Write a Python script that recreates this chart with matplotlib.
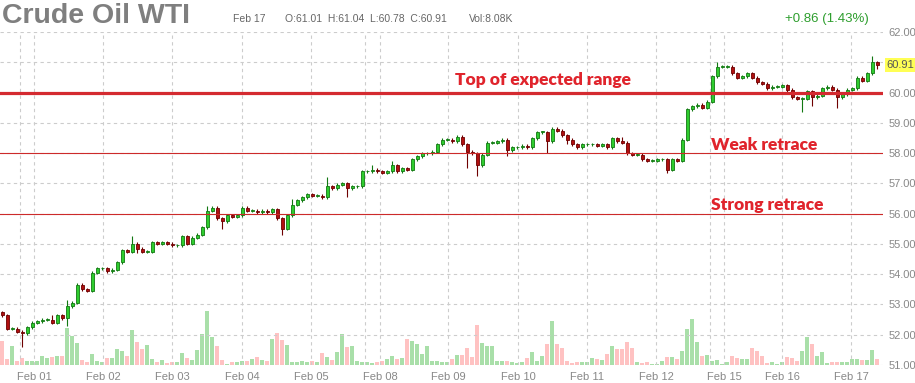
import numpy as np
import matplotlib
matplotlib.use("Agg")
import matplotlib.pyplot as plt
import matplotlib.transforms as mtransforms

plt.rcParams['font.family'] = ['Liberation Sans', 'DejaVu Sans']

# hourly-ish candles (close prices)
closes = [
    52.65, 52.20, 52.20, 52.10, 52.05, 52.25, 52.40, 52.45, 52.50, 52.50,
    52.40, 52.65, 52.55, 52.95, 53.05, 53.65, 53.50, 53.45, 54.05, 54.20,
    54.20, 54.10, 54.15, 54.40, 54.80, 54.75, 55.00, 54.85, 54.75, 54.75,
    55.05, 55.00, 55.05, 55.00, 54.95, 54.95, 55.25, 55.00, 55.20, 55.30,
    55.55, 56.10, 56.20, 55.85, 55.75, 55.95, 55.90, 55.95, 56.20, 56.10,
    56.10, 56.05, 56.10, 56.05, 56.15, 55.85, 55.50, 55.95, 56.30, 56.45,
    56.55, 56.65, 56.60, 56.60, 56.55, 56.90, 56.85, 56.95, 57.00, 56.85,
    56.90, 56.90, 57.40, 57.40, 57.45, 57.40, 57.35, 57.40, 57.60, 57.40,
    57.50, 57.45, 57.80, 57.90, 58.00, 58.00, 58.05, 58.30, 58.45, 58.45,
    58.40, 58.55, 58.30, 58.05, 58.00, 57.60, 57.95, 58.35, 58.35, 58.40,
    58.45, 58.10, 58.20, 58.20, 58.25, 58.20, 58.50, 58.70, 58.70, 58.40,
    58.80, 58.75, 58.60, 58.45, 58.30, 58.20, 58.30, 58.30, 58.30, 58.25,
    58.30, 58.20, 58.50, 58.40, 58.35, 58.00, 57.95, 57.95, 57.80, 57.75,
    57.75, 57.80, 57.80, 57.45, 57.80, 57.75, 58.45, 59.45, 59.55, 59.60,
    59.50, 59.70, 60.55, 60.85, 60.85, 60.85, 60.65, 60.50, 60.55, 60.65,
    60.50, 60.35, 60.30, 60.15, 60.20, 60.20, 60.25, 60.10, 59.85, 59.80,
    59.80, 60.05, 59.85, 59.90, 60.15, 60.20, 60.10, 59.85, 59.95, 60.10,
    60.15, 60.50, 60.40, 60.65, 61.01, 60.91,
]
first_open = 52.75

# wick lengths above / below the body
wick_up = [
    0.05, 0.05, 0.05, 0.05, 0.05, 0.05, 0.05, 0.05, 0.05, 0.05,
    0.15, 0.05, 0.05, 0.20, 0.05, 0.05, 0.05, 0.05, 0.05, 0.05,
    0.05, 0.05, 0.05, 0.05, 0.05, 0.05, 0.25, 0.05, 0.05, 0.05,
    0.05, 0.05, 0.05, 0.05, 0.05, 0.05, 0.05, 0.05, 0.05, 0.05,
    0.05, 0.15, 0.05, 0.05, 0.05, 0.05, 0.05, 0.05, 0.05, 0.05,
    0.05, 0.05, 0.05, 0.05, 0.05, 0.05, 0.05, 0.05, 0.20, 0.05,
    0.05, 0.05, 0.05, 0.05, 0.05, 0.30, 0.05, 0.05, 0.05, 0.05,
    0.05, 0.05, 0.05, 0.05, 0.15, 0.05, 0.05, 0.05, 0.15, 0.05,
    0.05, 0.05, 0.05, 0.05, 0.05, 0.05, 0.05, 0.05, 0.05, 0.05,
    0.05, 0.05, 0.05, 0.05, 0.05, 0.05, 0.05, 0.05, 0.05, 0.05,
    0.05, 0.05, 0.05, 0.05, 0.05, 0.05, 0.05, 0.05, 0.05, 0.05,
    0.05, 0.05, 0.05, 0.05, 0.05, 0.05, 0.05, 0.05, 0.05, 0.05,
    0.05, 0.05, 0.05, 0.05, 0.15, 0.05, 0.05, 0.05, 0.05, 0.05,
    0.05, 0.05, 0.05, 0.05, 0.05, 0.05, 0.05, 0.05, 0.05, 0.05,
    0.05, 0.05, 0.05, 0.15, 0.05, 0.05, 0.05, 0.05, 0.05, 0.05,
    0.05, 0.05, 0.05, 0.05, 0.05, 0.05, 0.05, 0.05, 0.05, 0.05,
    0.05, 0.05, 0.05, 0.05, 0.05, 0.05, 0.05, 0.05, 0.05, 0.05,
    0.05, 0.05, 0.05, 0.05, 0.20, 0.03,
]
wick_dn = [
    0.05, 0.05, 0.05, 0.05, 0.45, 0.05, 0.05, 0.05, 0.05, 0.05,
    0.05, 0.05, 0.05, 0.25, 0.05, 0.05, 0.05, 0.05, 0.05, 0.05,
    0.05, 0.05, 0.05, 0.05, 0.05, 0.05, 0.05, 0.15, 0.05, 0.05,
    0.05, 0.05, 0.05, 0.05, 0.05, 0.05, 0.05, 0.05, 0.05, 0.05,
    0.05, 0.05, 0.05, 0.05, 0.25, 0.05, 0.05, 0.05, 0.05, 0.05,
    0.05, 0.05, 0.05, 0.05, 0.05, 0.05, 0.20, 0.05, 0.05, 0.05,
    0.05, 0.05, 0.05, 0.05, 0.05, 0.05, 0.05, 0.05, 0.05, 0.30,
    0.05, 0.05, 0.05, 0.05, 0.05, 0.05, 0.05, 0.05, 0.05, 0.05,
    0.05, 0.05, 0.05, 0.05, 0.05, 0.05, 0.05, 0.05, 0.05, 0.05,
    0.05, 0.05, 0.05, 0.55, 0.05, 0.35, 0.05, 0.05, 0.05, 0.05,
    0.05, 0.20, 0.05, 0.05, 0.05, 0.05, 0.05, 0.05, 0.05, 0.40,
    0.05, 0.05, 0.05, 0.15, 0.05, 0.05, 0.05, 0.05, 0.05, 0.05,
    0.05, 0.05, 0.05, 0.05, 0.05, 0.05, 0.05, 0.05, 0.05, 0.05,
    0.05, 0.05, 0.05, 0.10, 0.05, 0.05, 0.05, 0.05, 0.05, 0.05,
    0.05, 0.05, 0.05, 0.05, 0.05, 0.05, 0.05, 0.05, 0.05, 0.05,
    0.05, 0.05, 0.05, 0.05, 0.05, 0.05, 0.05, 0.10, 0.05, 0.05,
    0.45, 0.05, 0.30, 0.05, 0.05, 0.05, 0.05, 0.35, 0.05, 0.05,
    0.05, 0.05, 0.05, 0.05, 0.05, 0.13,
]

volume = [
    24, 6, 19, 4, 7, 4, 4, 4, 9, 7, 8, 9, 9, 37, 29, 22, 5, 3, 11, 4,
    3, 7, 7, 16, 14, 9, 35, 23, 16, 20, 6, 3, 5, 2, 3, 3, 12, 7, 5, 15,
    31, 54, 28, 19, 5, 1, 3, 3, 4, 4, 6, 8, 5, 4, 26, 32, 25, 20, 3, 3,
    4, 3, 4, 3, 12, 8, 5, 13, 31, 18, 19, 4, 3, 3, 2, 3, 4, 6, 9, 6,
    7, 26, 24, 21, 11, 19, 4, 4, 3, 3, 6, 10, 10, 17, 8, 40, 22, 19, 19, 4,
    4, 4, 3, 2, 3, 7, 13, 4, 9, 21, 44, 21, 17, 4, 2, 3, 3, 3, 7, 6,
    5, 11, 19, 16, 16, 23, 17, 3, 2, 3, 1, 1, 4, 8, 8, 6, 14, 36, 46, 23,
    9, 10, 4, 5, 1, 3, 9, 7, 6, 6, 17, 14, 9, 2, 3, 1, 3, 8, 7, 4,
    14, 28, 21, 9, 13, 2, 3, 3, 3, 3, 6, 6, 5, 5, 15, 6,
]

day_labels = ['Feb 01', 'Feb 02', 'Feb 03', 'Feb 04', 'Feb 05', 'Feb 08', 'Feb 09',
              'Feb 10', 'Feb 11', 'Feb 12', 'Feb 15', 'Feb 16', 'Feb 17']
day_bar = [6.3, 20.1, 33.9, 47.9, 61.7, 75.5, 89.1, 103.1, 116.9, 130.7, 144.3, 155.9, 169.7]
week_bar = [3.5, 72.5, 141.5]

levels = [60.0, 58.0, 56.0]
level_labels = ['Top of expected range', 'Weak retrace', 'Strong retrace']

c = np.array(closes)
o = np.concatenate([[first_open], c[:-1]])
hi = np.maximum(o, c) + np.array(wick_up)
lo = np.minimum(o, c) - np.array(wick_dn)
x = np.arange(len(c))
up = c >= o

fig = plt.figure(figsize=(9.15, 3.83), dpi=100)
rect = [0.0, 0.047, 0.965, 0.869]

# volume underneath
axv = fig.add_axes(rect)
vcol = np.where(up, '#a9dfa9', '#ffc2c2')
axv.bar(x, volume, width=0.8, color=vcol, linewidth=0)
axv.set_ylim(0, max(volume) * 6.2)
axv.set_xlim(-0.5, 176.1)
axv.axis('off')

ax = fig.add_axes(rect, sharex=axv)
ax.patch.set_alpha(0)
ax.set_ylim(51, 62)
yt = np.arange(51, 63, 1)
ax.set_yticks(yt)
# 61.00 is hidden behind the last-price tag in the original
ax.set_yticklabels(['' if v == 61 else '%.2f' % v for v in yt])
ax.yaxis.tick_right()
ax.tick_params(axis='y', length=0, pad=4, labelsize=8, labelcolor='#888888')
ax.set_xticks(day_bar)
ax.set_xticklabels(day_labels)
ax.tick_params(axis='x', length=0, pad=5, labelsize=8, labelcolor='#888888')
for s in ax.spines.values():
    s.set_visible(False)

ax.grid(True, linestyle=(0, (3, 3)), color='#cccccc', linewidth=0.8)
ax.set_axisbelow(True)
for w in week_bar:
    ax.axvline(w, linestyle=(0, (3, 3)), color='#cccccc', linewidth=0.8, zorder=0)

# candles
ax.vlines(x[up], lo[up], hi[up], color='#127812', linewidth=0.8, zorder=3)
ax.vlines(x[~up], lo[~up], hi[~up], color='#6e0000', linewidth=0.8, zorder=3)
body = np.maximum(np.abs(c - o), 0.02)
ax.bar(x[up], body[up], bottom=np.minimum(o, c)[up], width=0.62,
       color='#2ecc2e', edgecolor='#127812', linewidth=0.6, zorder=4)
ax.bar(x[~up], body[~up], bottom=np.minimum(o, c)[~up], width=0.62,
       color='#b01010', edgecolor='#6e0000', linewidth=0.6, zorder=4)

# support / resistance lines
ax.axhline(levels[0], color='#d42a30', linewidth=2.3, zorder=5)
ax.axhline(levels[1], color='#cc2a2a', linewidth=0.8, zorder=5)
ax.axhline(levels[2], color='#cc2a2a', linewidth=0.8, zorder=5)
lab_font = dict(color='#e0242c', fontsize=12.5, fontweight='heavy',
                family=['Lato', 'DejaVu Sans'], va='center', zorder=6)
ax.text(90.5, 60.43, level_labels[0], **lab_font)
ax.text(141.7, 58.27, level_labels[1], **lab_font)
ax.text(141.7, 56.3, level_labels[2], **lab_font)

# last price tag
trans = mtransforms.blended_transform_factory(ax.transAxes, ax.transData)
ax.text(1.004, closes[-1], '%.2f' % closes[-1], transform=trans, fontsize=8,
        color='#555555', va='center', ha='left',
        bbox=dict(boxstyle='square,pad=0.15', facecolor='#ffff55', edgecolor='none'))

# header
fig.text(0.002, 0.958, 'Crude Oil WTI', fontsize=20.5, fontweight='bold',
         color='#7f7f7f', va='center', ha='left')
fig.text(0.255, 0.950, 'Feb 17', fontsize=7.5, color='#666666', va='center')
fig.text(0.311, 0.950, 'O:61.01  H:61.04  L:60.78  C:60.91', fontsize=7.5,
         color='#666666', va='center')
fig.text(0.513, 0.950, 'Vol:8.08K', fontsize=7.5, color='#666666', va='center')
fig.text(0.949, 0.950, '+0.86 (1.43%)', fontsize=9.5, color='#2e9e2e',
         va='center', ha='right')

fig.savefig('out.png', dpi=100)
